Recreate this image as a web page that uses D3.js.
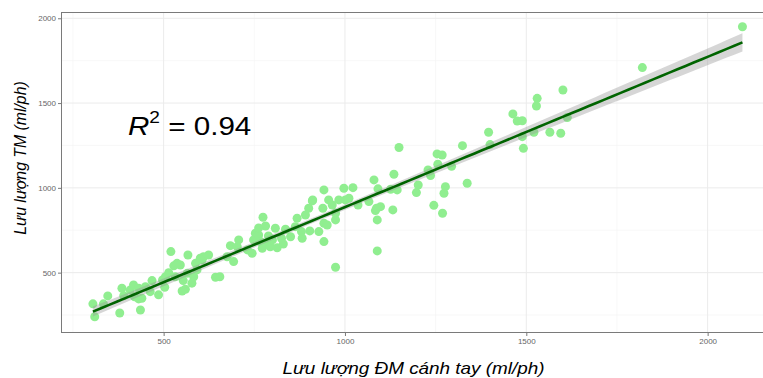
<!DOCTYPE html>
<html>
<head>
<meta charset="utf-8">
<script src="https://cdn.jsdelivr.net/npm/d3@7"></script>
<style>
  html, body { margin: 0; padding: 0; background: #fff; }
  svg { display: block; font-family: "Liberation Sans", Arial, sans-serif; }
</style>
</head>
<body>
<svg id="chart" width="763" height="378"></svg>
<script>
// Brachial artery flow (x) vs venous flow (y), ml/ph
const flowArm = [
  305, 310, 334, 346, 379, 385, 390, 408, 417, 420, 431, 440, 436, 431, 450, 468,
  463, 486, 497, 505, 503, 514, 520, 528, 532, 537, 546, 551, 560, 554, 567, 565,
  578, 583, 588, 592, 601, 610, 606, 624, 643, 655, 675, 684, 693, 703, 707, 744,
  748, 753, 762, 767, 772, 774, 781, 785, 794, 808, 813, 825, 836, 850, 863, 868,
  880, 882, 891, 903, 910, 900, 928, 939, 942, 942, 942, 951, 955, 911, 965, 789,
  830, 762, 800, 731, 974, 974, 974, 983, 997, 1001, 1011, 1022, 1036, 1066, 1080, 1084,
  1091, 1087, 1098, 1089, 1089, 1126, 1135, 1132, 1144, 1149, 1197, 1202, 1229, 1236, 1245, 1254,
  1268, 1256, 1269, 1273, 1277, 1294, 1324, 1337, 1396, 1400, 1463, 1475, 1489, 1489, 1492, 1521,
  1530, 1528, 1565, 1595, 1601, 1613, 1820, 2096
];
const flowVein = [
  316, 240, 316, 363, 262, 408, 364, 398, 427, 358, 345, 349, 280, 408, 417, 453,
  388, 369, 457, 476, 414, 500, 624, 540, 476, 555, 545, 392, 402, 453, 604, 496,
  438, 476, 555, 516, 585, 594, 575, 604, 473, 476, 594, 659, 565, 653, 693, 614,
  693, 732, 722, 683, 644, 827, 775, 673, 653, 762, 647, 703, 756, 712, 771, 821,
  742, 703, 840, 746, 923, 880, 742, 880, 791, 683, 988, 781, 929, 929, 899, 716,
  669, 764, 693, 634, 850, 811, 532, 929, 998, 929, 939, 1001, 899, 919, 1047, 866,
  994, 880, 889, 811, 628, 992, 1080, 870, 988, 1238, 972, 1017, 1106, 1073, 897, 1200,
  1194, 1139, 850, 968, 1007, 1127, 1249, 1027, 1328, 1255, 1436, 1394, 1396, 1302, 1233, 1328,
  1528, 1483, 1328, 1322, 1577, 1415, 1709, 1950
];

const majorTicks = [500, 1000, 1500, 2000];
const minorTicks = [250, 750, 1250, 1750, 2250];
const xTitle = "Lưu lượng ĐM cánh tay (ml/ph)";
const yTitle = "Lưu lượng TM (ml/ph)";
const rSquared = "0.94";

const svg = d3.select("#chart");
const panel = { left: 61, top: 12, right: 774, bottom: 332 };

const x = d3.scaleLinear().domain([217, 2183]).range([panel.left, panel.right]);
const y = d3.scaleLinear().domain([150, 2037]).range([panel.bottom, panel.top]);

svg.append("clipPath").attr("id", "panel-clip")
  .append("rect")
  .attr("x", panel.left).attr("y", panel.top)
  .attr("width", panel.right - panel.left).attr("height", panel.bottom - panel.top);

const grid = svg.append("g").attr("clip-path", "url(#panel-clip)");

// minor grid
grid.selectAll("line.vminor").data(minorTicks).join("line")
  .attr("x1", d => x(d)).attr("x2", d => x(d))
  .attr("y1", panel.top).attr("y2", panel.bottom)
  .attr("stroke", "#f3f3f3").attr("stroke-width", 0.6);
grid.selectAll("line.hminor").data(minorTicks).join("line")
  .attr("y1", d => y(d)).attr("y2", d => y(d))
  .attr("x1", panel.left).attr("x2", panel.right)
  .attr("stroke", "#f3f3f3").attr("stroke-width", 0.6);
// major grid
grid.selectAll("line.vmajor").data(majorTicks).join("line")
  .attr("x1", d => x(d)).attr("x2", d => x(d))
  .attr("y1", panel.top).attr("y2", panel.bottom)
  .attr("stroke", "#ebebeb").attr("stroke-width", 1);
grid.selectAll("line.hmajor").data(majorTicks).join("line")
  .attr("y1", d => y(d)).attr("y2", d => y(d))
  .attr("x1", panel.left).attr("x2", panel.right)
  .attr("stroke", "#ebebeb").attr("stroke-width", 1);

// linear fit with 95% confidence band
const n = flowArm.length;
const mx = d3.mean(flowArm), my = d3.mean(flowVein);
let sxx = 0, sxy = 0;
for (let i = 0; i < n; i++) {
  sxx += (flowArm[i] - mx) ** 2;
  sxy += (flowArm[i] - mx) * (flowVein[i] - my);
}
const slope = sxy / sxx;
const intercept = my - slope * mx;
let sse = 0;
for (let i = 0; i < n; i++) sse += (flowVein[i] - (intercept + slope * flowArm[i])) ** 2;
const sigma = Math.sqrt(sse / (n - 2));
const tCrit = 1.978;
const [xMin, xMax] = d3.extent(flowArm);
const fitX = d3.range(0, 81).map(i => xMin + (xMax - xMin) * i / 80);
const fit = fitX.map(v => {
  const yhat = intercept + slope * v;
  const se = sigma * Math.sqrt(1 / n + (v - mx) ** 2 / sxx);
  return { x: v, y: yhat, lo: yhat - tCrit * se, hi: yhat + tCrit * se };
});

const plot = svg.append("g").attr("clip-path", "url(#panel-clip)");

plot.selectAll("circle").data(flowArm).join("circle")
  .attr("cx", d => x(d))
  .attr("cy", (d, i) => y(flowVein[i]))
  .attr("r", 4.5)
  .attr("fill", "#90ee90");

plot.append("path").datum(fit)
  .attr("d", d3.area().x(d => x(d.x)).y0(d => y(d.lo)).y1(d => y(d.hi)))
  .attr("fill", "#999999").attr("fill-opacity", 0.4);

plot.append("path").datum(fit)
  .attr("d", d3.line().x(d => x(d.x)).y(d => y(d.y)))
  .attr("fill", "none").attr("stroke", "#006400").attr("stroke-width", 2.6);

// panel border
svg.append("rect")
  .attr("x", panel.left + 0.5).attr("y", panel.top + 0.5)
  .attr("width", panel.right - panel.left).attr("height", panel.bottom - panel.top)
  .attr("fill", "none").attr("stroke", "#7a7a7a").attr("stroke-width", 1);

// axes
const xAxis = svg.append("g")
  .attr("transform", `translate(0,${panel.bottom + 0.5})`)
  .call(d3.axisBottom(x).tickValues(majorTicks).tickSize(3.5).tickPadding(2).tickFormat(d3.format("d")));
const yAxis = svg.append("g")
  .attr("transform", `translate(${panel.left + 0.5},0)`)
  .call(d3.axisLeft(y).tickValues(majorTicks).tickSize(3.5).tickPadding(2).tickFormat(d3.format("d")));
[xAxis, yAxis].forEach(a => {
  a.select(".domain").remove();
  a.selectAll(".tick line").attr("stroke", "#7a7a7a");
  a.selectAll(".tick text")
    .attr("fill", "#666").attr("font-size", 8)
    .attr("font-family", "'Liberation Sans', Arial, sans-serif");
});

// axis titles
svg.append("text")
  .attr("transform", `translate(${(panel.left + panel.right) / 2 - 4},374) scale(1.16,1)`)
  .attr("text-anchor", "middle")
  .attr("font-size", 16.3).attr("font-style", "italic").attr("fill", "#000")
  .text(xTitle);

svg.append("text")
  .attr("transform", `translate(26,158) rotate(-90)`)
  .attr("text-anchor", "middle")
  .attr("font-size", 15.8).attr("font-style", "italic").attr("fill", "#000")
  .text(yTitle);

// R-squared annotation
const ann = svg.append("text")
  .attr("transform", `translate(128,135) scale(1.16,1)`)
  .attr("font-size", 25.5).attr("fill", "#000");
ann.append("tspan").attr("font-style", "italic").text("R");
ann.append("tspan").attr("font-size", 16.5).attr("dy", -12.5).text("2");
ann.append("tspan").attr("dy", 12.5).text(" = " + rSquared);
</script>
</body>
</html>
